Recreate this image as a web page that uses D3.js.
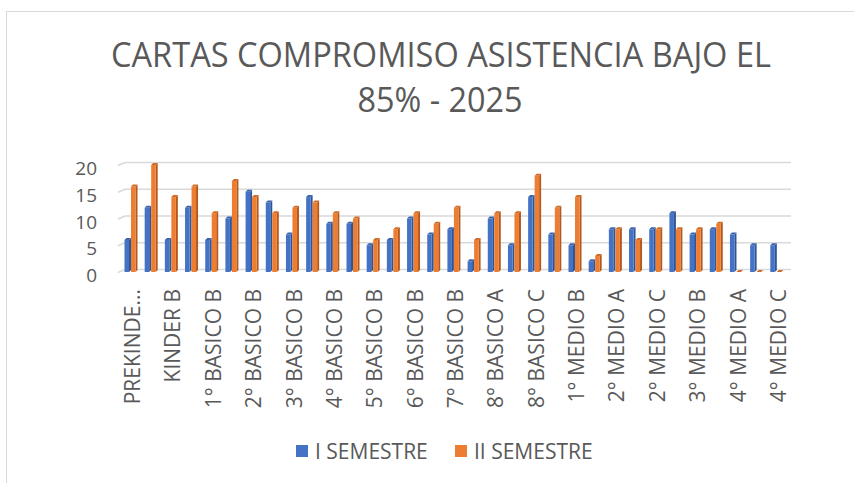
<!DOCTYPE html>
<html>
<head>
<meta charset="utf-8">
<script src="https://cdn.jsdelivr.net/npm/d3@7"></script>
<style>
  body { margin: 0; background: #fff; }
  text { font-family: "Open Sans", "Noto Sans", sans-serif; fill: #595959; }
</style>
</head>
<body>
<div id="chart"></div>
<script>
// datos
const categories = [
    'PREKINDER A', 'KINDER A', 'KINDER B', '1° BASICO A', '1° BASICO B', '2° BASICO A', '2° BASICO B',
    '3° BASICO A', '3° BASICO B', '4° BASICO A', '4° BASICO B', '5° BASICO A', '5° BASICO B',
    '6° BASICO A', '6° BASICO B', '7° BASICO A', '7° BASICO B', '7° BASICO C', '8° BASICO A',
    '8° BASICO B', '8° BASICO C', '1° MEDIO A', '1° MEDIO B', '1° MEDIO C', '2° MEDIO A',
    '2° MEDIO B', '2° MEDIO C', '3° MEDIO A', '3° MEDIO B', '3° MEDIO C', '4° MEDIO A',
    '4° MEDIO B', '4° MEDIO C'
];
const semestre1 = [6, 12, 6, 12, 6, 10, 15, 13, 7, 14, 9, 9, 5, 6, 10, 7, 8, 2, 10, 5, 14, 7, 5, 2, 8, 8, 8, 11, 7, 8, 7, 5, 5];
const semestre2 = [16, 20, 14, 16, 11, 17, 14, 11, 12, 13, 11, 10, 6, 8, 11, 9, 12, 6, 11, 11, 18, 12, 14, 3, 8, 6, 8, 8, 8, 9, 0, 0, 0];
const seriesNames = ['I SEMESTRE', 'II SEMESTRE'];
const yTicks = [0, 5, 10, 15, 20];
const titleLines = ['CARTAS COMPROMISO ASISTENCIA BAJO EL', '85% - 2025'];

const colors = ['#4472C4', '#ED7D31'];
const sideColors = ['#2F5597', '#B4581E'];
const topColors = ['#3A63AD', '#D16A25'];

const width = 854, height = 483;
const depth = 2;

const svg = d3.select('#chart')
    .append('svg')
    .attr('width', width)
    .attr('height', height);

svg.append('rect')
    .attr('width', width).attr('height', height)
    .attr('fill', '#fff');

// borde del area del grafico
svg.append('rect')
    .attr('x', 6.5).attr('y', 11.5)
    .attr('width', 900).attr('height', 500)
    .attr('fill', 'none')
    .attr('stroke', '#D9D9D9');

// titulo
svg.append('text')
    .attr('x', 441).attr('y', 67)
    .attr('text-anchor', 'middle')
    .attr('textLength', 660)
    .attr('lengthAdjust', 'spacingAndGlyphs')
    .style('font-size', '34px')
    .text(titleLines[0]);

svg.append('text')
    .attr('x', 440).attr('y', 112)
    .attr('text-anchor', 'middle')
    .attr('textLength', 165)
    .attr('lengthAdjust', 'spacingAndGlyphs')
    .style('font-size', '34px')
    .text(titleLines[1]);

// escalas
const x = d3.scaleBand()
    .domain(categories)
    .range([121, 787]);

const xInner = d3.scaleBand()
    .domain([0, 1])
    .range([3.5, 16.5]);

const y = d3.scaleLinear()
    .domain([0, 20])
    .range([272, 165]);

// lineas de grilla (pared del fondo)
const grid = svg.append('g');
yTicks.forEach(v => {
    const gy = y(v) - 2.5;
    grid.append('line')
        .attr('x1', 125).attr('x2', 791)
        .attr('y1', gy).attr('y2', gy)
        .attr('stroke', '#D9D9D9').attr('stroke-width', 1.5);
    grid.append('line')
        .attr('x1', 118).attr('x2', 125)
        .attr('y1', gy + 3).attr('y2', gy)
        .attr('stroke', '#D9D9D9').attr('stroke-width', 1.5);
});

// etiquetas eje Y
svg.append('g')
    .selectAll('text')
    .data(yTicks)
    .enter()
    .append('text')
    .attr('x', 97)
    .attr('y', d => y(d) + 3)
    .attr('text-anchor', 'end')
    .attr('dominant-baseline', 'central')
    .style('font-size', '19px')
    .text(d => d);

// barras 3D
const rows = categories.map((c, i) => ({ cat: c, vals: [semestre1[i], semestre2[i]] }));
const faceW = xInner.bandwidth() - depth;

const groups = svg.append('g')
    .selectAll('g')
    .data(rows)
    .enter()
    .append('g')
    .attr('transform', d => `translate(${x(d.cat)},0)`);

[0, 1].forEach(s => {
    const bx = xInner(s);
    // cara lateral
    groups.append('path')
        .attr('fill', sideColors[s])
        .attr('d', d => {
            const top = y(d.vals[s]), base = y(0);
            return `M${bx + faceW},${top} L${bx + faceW + depth},${top - depth} L${bx + faceW + depth},${base - depth} L${bx + faceW},${base} Z`;
        });
    // cara superior
    groups.append('path')
        .attr('fill', topColors[s])
        .attr('d', d => {
            const top = y(d.vals[s]);
            return `M${bx},${top} L${bx + depth},${top - depth} L${bx + faceW + depth},${top - depth} L${bx + faceW},${top} Z`;
        });
    // cara frontal
    groups.append('rect')
        .attr('x', bx)
        .attr('y', d => y(d.vals[s]))
        .attr('width', faceW)
        .attr('height', d => y(0) - y(d.vals[s]))
        .attr('fill', colors[s]);
});

// etiquetas eje X (una si, una no)
const xLabels = svg.append('g');
categories.forEach((c, i) => {
    if (i % 2 !== 0) return;
    const cx = x(c) + x.bandwidth() / 2;
    const label = c.length > 10 && c.startsWith('PRE') ? c.slice(0, 8) + '...' : c;
    xLabels.append('text')
        .attr('transform', `translate(${cx + 1},289) rotate(-90)`)
        .attr('text-anchor', 'end')
        .attr('dominant-baseline', 'central')
        .style('font-size', '21px')
        .text(label);
});

// leyenda
const legendX = [296, 455];
seriesNames.forEach((name, i) => {
    svg.append('rect')
        .attr('x', legendX[i]).attr('y', 445)
        .attr('width', 12).attr('height', 12)
        .attr('fill', colors[i]);
    svg.append('text')
        .attr('x', legendX[i] + 19).attr('y', 451)
        .attr('dominant-baseline', 'central')
        .style('font-size', '21px')
        .text(name);
});
</script>
</body>
</html>
